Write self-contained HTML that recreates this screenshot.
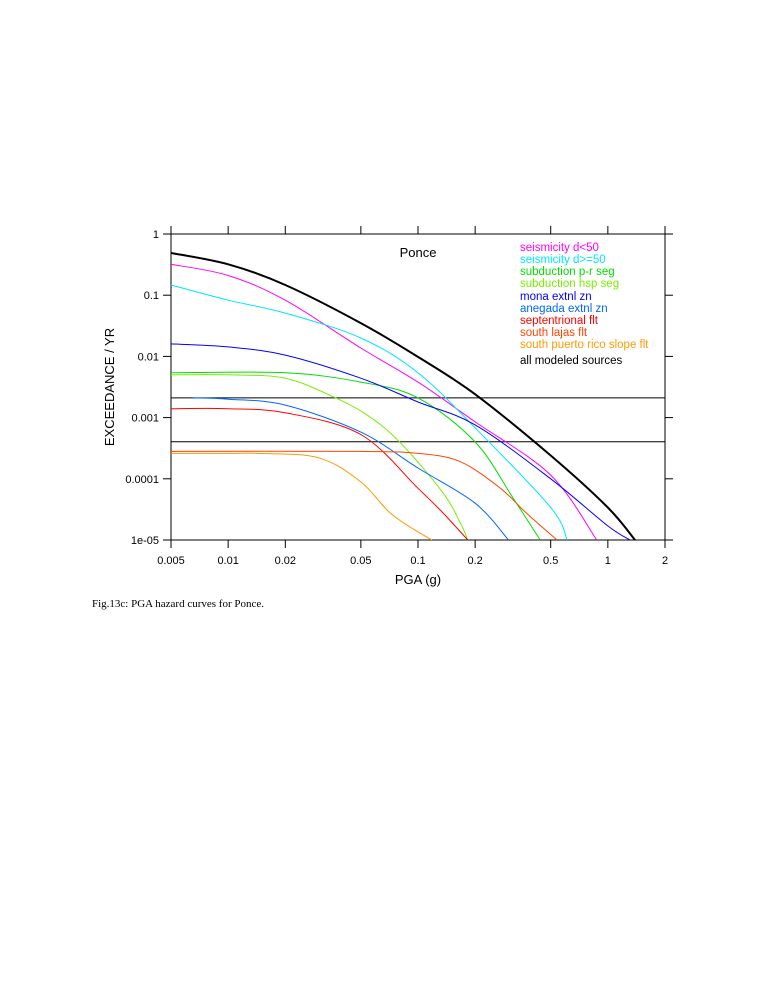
<!DOCTYPE html>
<html><head><meta charset="utf-8"><style>
html,body{margin:0;padding:0;background:#fff;}
svg text{font-family:"Liberation Sans",sans-serif;}
</style></head><body>
<svg width="765" height="990" xmlns="http://www.w3.org/2000/svg">
<g id="axes"></g>
<g id="curves"></g>
<text x="418" y="257" text-anchor="middle" font-size="13">Ponce</text>
<g id="legend"></g>
<text x="418" y="584" text-anchor="middle" font-size="13">PGA (g)</text>
<text transform="translate(114,387) rotate(-90)" text-anchor="middle" font-size="13">EXCEEDANCE / YR</text>
<text x="92" y="607" font-size="11" style="font-family:'Liberation Serif',serif">Fig.13c:  PGA hazard curves for Ponce.</text>
</svg>
<script>
const xTicks=[0.005,0.01,0.02,0.05,0.1,0.2,0.5,1,2];
const xTickLabels=["0.005","0.01","0.02","0.05","0.1","0.2","0.5","1","2"];
const yTicks=[1,0.1,0.01,0.001,0.0001,0.00001];
const yTickLabels=["1","0.1","0.01","0.001","0.0001","1e-05"];
const refLevels=[0.0021,0.000404];
const seriesNames=["seismicity d<50","seismicity d>=50","subduction p-r seg","subduction hsp seg","mona extnl zn","anegada extnl zn","septentrional flt","south lajas flt","south puerto rico slope flt","all modeled sources"];
const seriesColors=["#ff00ff","#00e5ff","#00dd00","#77ee00","#0000ff","#0066ff","#ff0000","#ff4400","#ff9900","#000000"];
const pgaMagenta=[0.005,0.01,0.02,0.05,0.1,0.2,0.5,0.875];
const rateMagenta=[0.32,0.21,0.083,0.0137,0.0038,0.00085,0.000115,0.00001];
const pgaCyan=[0.005,0.01,0.02,0.05,0.1,0.2,0.5,0.61];
const rateCyan=[0.147,0.083,0.051,0.02,0.0054,0.00068,0.000034,0.00001];
const pgaGreen=[0.005,0.02,0.05,0.1,0.2,0.316,0.44];
const rateGreen=[0.0054,0.0054,0.0038,0.0021,0.0004,0.000049,0.00001];
const pgaHsp=[0.005,0.01,0.02,0.0356,0.054,0.08,0.135,0.167,0.183];
const rateHsp=[0.005,0.005,0.0044,0.0022,0.0011,0.0004,0.00006,0.000019,0.00001];
const pgaMona=[0.005,0.01,0.02,0.05,0.1,0.2,0.5,1,1.31];
const rateMona=[0.016,0.0143,0.0105,0.0044,0.0018,0.00076,0.0001,0.000017,0.00001];
const pgaAnegada=[0.0065,0.01,0.02,0.05,0.1,0.2,0.3];
const rateAnegada=[0.0021,0.002,0.0016,0.00058,0.00015,0.00004,0.00001];
const pgaSept=[0.005,0.01,0.02,0.05,0.1,0.135,0.183];
const rateSept=[0.0014,0.0014,0.0012,0.00053,0.00007,0.000028,0.00001];
const pgaLajas=[0.005,0.05,0.1,0.167,0.272,0.37,0.54];
const rateLajas=[0.00028,0.00028,0.00026,0.00019,0.00007,0.000028,0.00001];
const pgaSlope=[0.005,0.01,0.0147,0.03,0.05,0.073,0.118];
const rateSlope=[0.00026,0.00026,0.00026,0.00022,0.000089,0.000026,0.00001];
const pgaAll=[0.005,0.01,0.02,0.05,0.1,0.2,0.5,1,1.39];
const rateAll=[0.49,0.32,0.147,0.035,0.0098,0.0024,0.00024,0.000034,0.00001];
const seriesPga=[pgaMagenta,pgaCyan,pgaGreen,pgaHsp,pgaMona,pgaAnegada,pgaSept,pgaLajas,pgaSlope,pgaAll];
const seriesRate=[rateMagenta,rateCyan,rateGreen,rateHsp,rateMona,rateAnegada,rateSept,rateLajas,rateSlope,rateAll];

const X0=171,X1=665,Y0=234,Y1=540;
const lx0=Math.log10(0.005),lx1=Math.log10(2);
function xs(v){return X0+(Math.log10(v)-lx0)/(lx1-lx0)*(X1-X0);}
function ys(v){return Y0+(0-Math.log10(v))/5*(Y1-Y0);}
const NS="http://www.w3.org/2000/svg";
function mk(tag,attrs,parent){const e=document.createElementNS(NS,tag);for(const k in attrs)e.setAttribute(k,attrs[k]);parent.appendChild(e);return e;}
const axes=document.getElementById('axes');
const frame=mk('rect',{x:X0,y:Y0,width:X1-X0,height:Y1-Y0,fill:'none',stroke:'#000','stroke-width':1},axes);


xTicks.forEach((t,i)=>{
  const x=xs(t);
  const a=mk('line',{x1:x,x2:x,y1:Y1,y2:Y1+8,stroke:'#000'},axes);
  
  
  const b=mk('line',{x1:x,x2:x,y1:Y0,y2:Y0-8,stroke:'#000'},axes);
  
  
  const tx=mk('text',{x:x,y:Y1+24,'text-anchor':'middle','font-size':11},axes);
  tx.textContent=xTickLabels[i];
  
  
});
yTicks.forEach((t,i)=>{
  const y=ys(t);
  const a=mk('line',{x1:X0-8,x2:X0,y1:y,y2:y,stroke:'#000'},axes);
  
  
  const b=mk('line',{x1:X1,x2:X1+8,y1:y,y2:y,stroke:'#000'},axes);
  
  
  const tx=mk('text',{x:X0-12,y:y+4,'text-anchor':'end','font-size':11},axes);
  tx.textContent=yTickLabels[i];
  
  
});
refLevels.forEach(r=>{
  const l=mk('line',{x1:X0,x2:X1,y1:ys(r),y2:ys(r),stroke:'#000','stroke-width':1},axes);
  
  
});
function smooth(pts){
  let d='M'+pts[0][0].toFixed(1)+','+pts[0][1].toFixed(1);
  for(let i=0;i<pts.length-1;i++){
    const p0=pts[i-1]||pts[i],p1=pts[i],p2=pts[i+1],p3=pts[i+2]||p2;
    const c1=[p1[0]+(p2[0]-p0[0])/6,p1[1]+(p2[1]-p0[1])/6];
    const c2=[p2[0]-(p3[0]-p1[0])/6,p2[1]-(p3[1]-p1[1])/6];
    d+=' C'+c1[0].toFixed(1)+','+c1[1].toFixed(1)+' '+c2[0].toFixed(1)+','+c2[1].toFixed(1)+' '+p2[0].toFixed(1)+','+p2[1].toFixed(1);
  }
  return d;
}
const cg=document.getElementById('curves');
seriesPga.forEach((pg,i)=>{
  const pts=pg.map((p,j)=>[xs(p),ys(seriesRate[i][j])]);
  const p=mk('path',{d:smooth(pts),fill:'none',stroke:seriesColors[i],'stroke-width':i===9?2:1},cg);
  
  
});
const lg=document.getElementById('legend');
const legY=[251,263,275,287,300,312,324,336,348,364];
seriesNames.forEach((n,i)=>{
  const t=mk('text',{x:520,y:legY[i],'font-size':11.5,fill:seriesColors[i]},lg);
  t.textContent=n;
  
  
});
</script>
</body></html>
